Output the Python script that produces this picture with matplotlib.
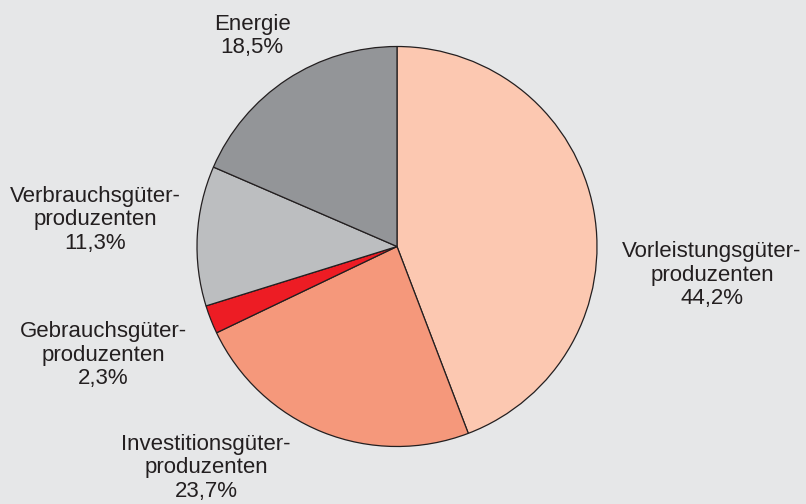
import matplotlib.pyplot as plt

labels = ["Vorleistungsgüter-\nproduzenten", "Investitionsgüter-\nproduzenten",
          "Gebrauchsgüter-\nproduzenten", "Verbrauchsgüter-\nproduzenten", "Energie"]
shares = [44.2, 23.7, 2.3, 11.3, 18.5]
colors = ["#fcc8b1", "#f5987b", "#ed1c24", "#bcbec0", "#939598"]

# label anchor positions in pixels (x, y from top)
label_pos = [(712, 275), (206, 468), (103, 355), (95, 220), (252, 36)]

W, H = 806, 504
fig = plt.figure(figsize=(W / 100, H / 100), dpi=100, facecolor="#e6e7e8")
ax = fig.add_axes([0, 0, 1, 1])
ax.set_facecolor("#e6e7e8")

ax.pie(shares, colors=colors, startangle=90, counterclock=False,
       center=(397, H - 246.5), radius=200, frame=True,
       wedgeprops=dict(edgecolor="#231f20", linewidth=0.9))
ax.set_xlim(0, W)
ax.set_ylim(0, H)
ax.set_aspect("equal")
ax.axis("off")

font = ["Liberation Sans", "DejaVu Sans"]
for lab, val, (x, y) in zip(labels, shares, label_pos):
    txt = lab + "\n" + f"{val:.1f}".replace(".", ",") + "%"
    ax.text(x, H - y, txt, ha="center", va="center", fontsize=16,
            family=font, color="#231f20", linespacing=1.17)

fig.savefig("out.png", dpi=100, facecolor=fig.get_facecolor())
